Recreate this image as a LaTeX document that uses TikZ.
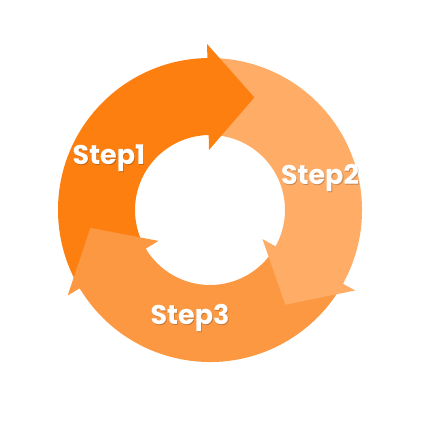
\documentclass[tikz,border=0pt]{standalone}
\usepackage{fontspec}
\newfontfamily\labfont{Poppins}
\definecolor{cone}{RGB}{253,127,15}
\definecolor{ctwo}{RGB}{254,172,102}
\definecolor{cthree}{RGB}{253,152,66}
\tikzset{
  steplabel/.style={text=white,font=\labfont\bfseries\fontsize{27}{27}\selectfont,inner sep=0pt},
  stepshadow/.style={steplabel,text=black,text opacity=0.22},
}
\newcommand{\ringpart}[3]{%
  \fill[#1] (#2:152) arc[start angle=#2,end angle=#3,radius=152] -- (#3:75) arc[start angle=#3,end angle=#2,radius=75] -- cycle;}
\newcommand{\headpart}[2]{%
  \fill[#1] ({#2+1}:152) arc[start angle={#2+1},end angle={#2-3},radius=152] -- ({#2-3}:75) arc[start angle={#2-3},end angle={#2+1},radius=75] -- cycle;
  \fill[#1] (#2:166) -- ({#2-22.5}:121) -- (#2:60) -- cycle;}
\begin{document}
\begin{tikzpicture}[x=1pt,y=1pt]
\useasboundingbox (-210,-212) rectangle (210,210);
\ringpart{cone}{91}{211}
\ringpart{ctwo}{-29}{91}
\ringpart{cthree}{211}{331}
\headpart{cone}{91}
\headpart{ctwo}{-29}
\headpart{cthree}{211}
\node[stepshadow] (s1sh) at (-100.2,51.2) {Step1};
\node[stepshadow] (s2sh) at (110.8,31.2) {Step2};
\node[stepshadow] (s3sh) at (-19.2,-108.8) {Step3};
\node[steplabel] (s1) at (-101,52) {Step1};
\node[steplabel] (s2) at (110,32) {Step2};
\node[steplabel] (s3) at (-20,-108) {Step3};
\end{tikzpicture}
\end{document}
